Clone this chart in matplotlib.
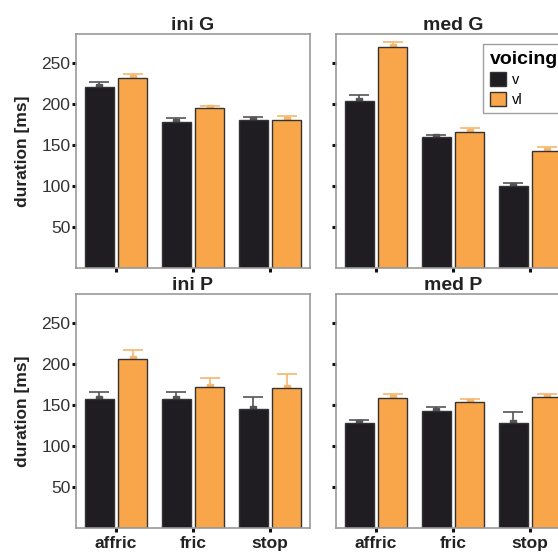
import numpy as np
import matplotlib.pyplot as plt
from matplotlib.patches import Patch

plt.rcParams['font.family'] = ['Liberation Sans', 'DejaVu Sans']

categories = ["affric", "fric", "stop"]
panels = ["ini G", "med G", "ini P", "med P"]
voicing = ["v", "vl"]

# mean durations [ms] per panel, for v and vl
means_v = {
    "ini G": [220.8, 178.6, 181.4],
    "med G": [204.5, 160.7, 100.7],
    "ini P": [157.1, 157.1, 145.7],
    "med P": [128.6, 142.5, 128.6],
}
means_vl = {
    "ini G": [232.1, 195.6, 181.2],
    "med G": [269.8, 166.1, 143.3],
    "ini P": [206.4, 171.8, 170.6],
    "med P": [158.4, 153.5, 160.3],
}
# standard errors
se_v = {
    "ini G": [6.8, 4.5, 2.9],
    "med G": [7.3, 2.4, 2.8],
    "ini P": [9.3, 9.3, 14.6],
    "med P": [3.7, 5.6, 13.4],
}
se_vl = {
    "ini G": [5.3, 2.4, 4.5],
    "med G": [7.0, 5.6, 4.5],
    "ini P": [11.4, 11.7, 17.4],
    "med P": [5.2, 4.4, 3.3],
}

col_v = "#1f1d21"
col_vl = "#f9a54a"
err_v = "#555555"
err_vl = "#f7b66e"

W, H = 558, 553
fig = plt.figure(figsize=(W / 100, H / 100), dpi=100)

# axes boxes in pixels: (left, top, right, bottom)
boxes = {
    "ini G": (76, 34, 310, 268),
    "med G": (336, 34, 570, 268),
    "ini P": (76, 294, 310, 528),
    "med P": (336, 294, 570, 528),
}

x = np.arange(1, len(categories) + 1)
off = 0.215
bw = 0.375

for name in panels:
    l, t, r, b = boxes[name]
    ax = fig.add_axes([l / W, 1 - b / H, (r - l) / W, (b - t) / H])
    for vals, errs, fc, ec, dx in [
        (means_v[name], se_v[name], col_v, err_v, -off),
        (means_vl[name], se_vl[name], col_vl, err_vl, off),
    ]:
        ax.errorbar(x + dx, vals, yerr=errs, fmt="none", ecolor=ec,
                    elinewidth=1.2, capsize=7, capthick=1.2, zorder=1)
        ax.plot(x + dx, vals, "s", color=ec, markersize=4, zorder=1)
        ax.bar(x + dx, vals, width=bw, color=fc, edgecolor="#333333",
               linewidth=1.0, zorder=2)
    ax.set_xlim(0.48, 3.52)
    ax.set_ylim(0, 286)
    ax.set_yticks([50, 100, 150, 200, 250])
    ax.set_xticks(x)
    for s in ax.spines.values():
        s.set_color("#999999")
        s.set_linewidth(1.2)
    ax.tick_params(axis="both", length=3, width=2.2, color="#111111",
                   labelsize=12.5, labelcolor="#333333", pad=1)
    ax.set_title(name, fontsize=14, fontweight="bold", color="#222222", pad=3)
    if name in ("ini G", "ini P"):
        ax.set_ylabel("duration [ms]", fontsize=12.5, fontweight="bold",
                      color="#222222", labelpad=8)
    else:
        ax.set_yticklabels([])
    if name in ("ini P", "med P"):
        ax.set_xticklabels(categories, fontsize=12.5, fontweight="bold",
                           color="#222222")
        ax.tick_params(axis="x", pad=3)
    else:
        ax.set_xticklabels([])

handles = [Patch(facecolor=col_v, edgecolor="#333333", linewidth=1.0),
           Patch(facecolor=col_vl, edgecolor="#333333", linewidth=1.0)]
leg = fig.legend(handles, voicing, loc="upper left",
                 bbox_to_anchor=(476 / W, 1 - 37 / H), title="voicing",
                 fontsize=10.5, title_fontproperties={"weight": "bold", "size": 14},
                 frameon=True, fancybox=False, edgecolor="#888888",
                 handlelength=1.1, handleheight=1.1, handletextpad=0.4,
                 labelspacing=0.3, borderpad=0.45, alignment="left")
leg.get_frame().set_linewidth(1.0)

fig.savefig("out.png", dpi=100)
